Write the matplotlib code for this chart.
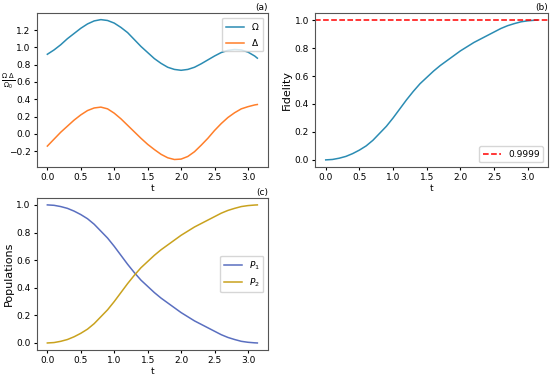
import matplotlib
matplotlib.use("Agg")
import matplotlib.pyplot as plt
from matplotlib.ticker import MultipleLocator

t = [0.0, 0.1, 0.2, 0.3, 0.4, 0.5, 0.6, 0.7, 0.8, 0.9, 1.0, 1.1, 1.2, 1.3, 1.4, 1.5,
     1.6, 1.7, 1.8, 1.9, 2.0, 2.1, 2.2, 2.3, 2.4, 2.5, 2.6, 2.7, 2.8, 2.9, 3.0, 3.1, 3.14]
omega = [0.92, 0.97, 1.03, 1.10, 1.16, 1.22, 1.27, 1.305, 1.32, 1.31, 1.28, 1.23, 1.17, 1.09, 1.01, 0.94,
         0.87, 0.815, 0.77, 0.745, 0.735, 0.745, 0.77, 0.81, 0.855, 0.90, 0.94, 0.965, 0.975, 0.97, 0.945, 0.90, 0.875]
delta = [-0.14, -0.06, 0.02, 0.09, 0.16, 0.22, 0.27, 0.30, 0.31, 0.29, 0.24, 0.175, 0.10, 0.025, -0.05, -0.12,
         -0.18, -0.235, -0.275, -0.295, -0.29, -0.26, -0.205, -0.13, -0.05, 0.04, 0.12, 0.19, 0.245, 0.29, 0.315, 0.335, 0.34]
fidelity = [0.0, 0.003, 0.012, 0.025, 0.045, 0.07, 0.10, 0.14, 0.19, 0.24, 0.30, 0.365, 0.43, 0.49, 0.545, 0.59,
            0.635, 0.675, 0.71, 0.745, 0.78, 0.81, 0.84, 0.865, 0.89, 0.915, 0.94, 0.96, 0.975, 0.988, 0.995, 0.999, 1.0]
p1 = [1.0, 0.997, 0.988, 0.975, 0.955, 0.93, 0.90, 0.86, 0.81, 0.76, 0.70, 0.635, 0.57, 0.51, 0.455, 0.41,
      0.365, 0.325, 0.29, 0.255, 0.22, 0.19, 0.16, 0.135, 0.11, 0.085, 0.06, 0.04, 0.025, 0.012, 0.005, 0.001, 0.0]
p2 = [0.0, 0.003, 0.012, 0.025, 0.045, 0.07, 0.10, 0.14, 0.19, 0.24, 0.30, 0.365, 0.43, 0.49, 0.545, 0.59,
      0.635, 0.675, 0.71, 0.745, 0.78, 0.81, 0.84, 0.865, 0.89, 0.915, 0.94, 0.96, 0.975, 0.988, 0.995, 0.999, 1.0]
target = 0.9999

fs = 6.5
fig = plt.figure(figsize=(5.5, 3.75), dpi=100)
ax_a = fig.add_axes([0.067, 0.555, 0.42, 0.41])
ax_b = fig.add_axes([0.573, 0.555, 0.423, 0.41])
ax_c = fig.add_axes([0.067, 0.067, 0.42, 0.405])

ax_a.plot(t, omega, color="#2b8cb3", lw=1.1, label=r"$\Omega$")
ax_a.plot(t, delta, color="#ff7f2a", lw=1.1, label=r"$\Delta$")
ax_a.set_ylabel(r"$\frac{\Omega\ \Delta}{\Omega_0}$", fontsize=7, rotation=0, ha="center", va="center")
ax_a.yaxis.set_label_coords(-0.125, 0.56)
ax_a.set_ylim(-0.38, 1.395)
ax_a.yaxis.set_major_locator(MultipleLocator(0.2))
ax_a.legend(loc="upper right", fontsize=fs)
ax_a.set_title("(a)", loc="right", fontsize=fs, pad=2)

ax_b.plot(t, fidelity, color="#2b8cb3", lw=1.1)
ax_b.axhline(target, color="red", ls="--", lw=1.1, label=f"{target}")
ax_b.set_ylabel("Fidelity", fontsize=8, labelpad=2)
ax_b.legend(loc="lower right", fontsize=fs)
ax_b.set_title("(b)", loc="right", fontsize=fs, pad=2)

ax_c.plot(t, p1, color="#5a6fc0", lw=1.1, label=r"$P_1$")
ax_c.plot(t, p2, color="#c9a21e", lw=1.1, label=r"$P_2$")
ax_c.set_ylabel("Populations", fontsize=8, labelpad=2)
ax_c.legend(loc="center right", fontsize=fs)
ax_c.set_title("(c)", loc="right", fontsize=fs, pad=2)

for ax in (ax_a, ax_b, ax_c):
    ax.set_xlabel("t", fontsize=fs, labelpad=1)
    ax.tick_params(labelsize=fs, length=2.5, pad=2)
    for s in ax.spines.values():
        s.set_color("#555555")
        s.set_linewidth(0.8)

fig.savefig("out.png", dpi=100)
